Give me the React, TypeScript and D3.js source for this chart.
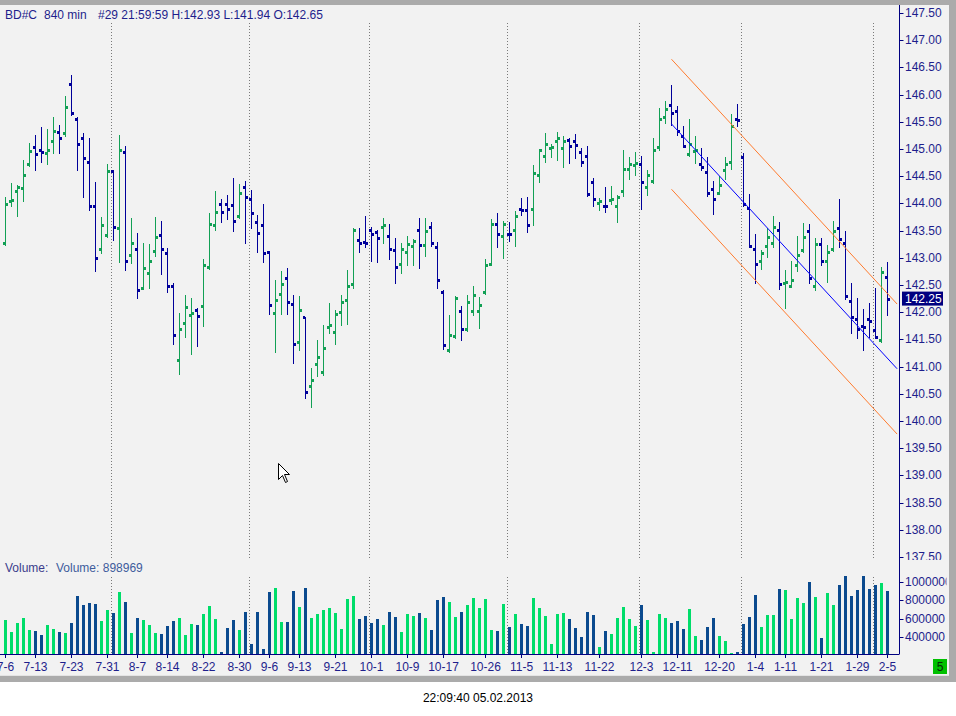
import * as d3 from "d3";

// OHLC bars, 840 min, BD#C
const opens = [
  143.28, 144.04, 144.22, 144.28, 144.72, 145.03, 144.98, 144.92, 145.14, 145.31,
  145.29, 146.19, 145.55, 145.2, 144.76, 143.95, 143.17, 143.41, 144.59, 143.54,
  144.94, 143.05, 143.17, 142.44, 142.72, 143.12, 143.41, 143.08, 142.48, 141.13,
  141.81, 141.94, 142.04, 142.11, 142.83, 143.6, 143.98, 143.98, 143.97, 143.76,
  144.3, 144.09, 143.65, 143.6, 143.1, 141.98, 142.33, 142.62, 142.15, 141.45,
  141.91, 140.64, 141.04, 140.9, 141.72, 141.63, 142.0, 142.22, 142.51, 143.32,
  143.29, 143.51, 143.47, 143.56, 143.4, 143.14, 142.88, 143.1, 143.21, 143.51,
  143.23, 143.56, 143.19, 142.37, 141.3, 141.56, 142.03, 141.69, 142.02, 142.02,
  142.38, 142.88, 143.63, 143.4, 143.44, 143.51, 143.89, 143.87, 143.89, 144.53,
  144.87, 145.01, 145.14, 145.01, 145.16, 145.14, 144.94, 144.88, 144.39, 144.0,
  143.96, 144.06, 143.95, 144.22, 144.63, 144.7, 144.72, 144.3, 144.42, 145.03,
  145.58, 145.8, 145.69, 145.23, 144.9, 144.97, 144.72, 144.57, 144.26, 144.19,
  144.61, 144.77, 145.55, 144.85, 143.91, 143.17, 142.95, 143.21, 143.27, 143.52,
  142.54, 142.48, 142.86, 143.14, 143.5, 142.49, 143.25, 142.95, 143.17, 143.54,
  143.27, 142.2, 141.88, 141.75, 141.88, 141.67, 141.48, 142.65,
];
const highs = [
  144.12, 144.38, 144.34, 144.8, 145.11, 145.26, 145.4, 145.37, 145.59, 145.44,
  145.97, 146.36, 145.58, 145.29, 145.2, 144.39, 143.75, 144.72, 144.61, 145.26,
  145.06, 143.73, 143.46, 143.27, 143.25, 143.75, 143.68, 143.18, 142.54, 141.99,
  142.32, 142.26, 142.07, 142.98, 143.82, 144.23, 144.08, 144.15, 144.47, 144.36,
  144.41, 144.25, 143.79, 143.99, 143.12, 142.59, 142.76, 142.81, 142.32, 142.3,
  141.92, 140.98, 141.49, 141.77, 142.17, 142.04, 142.32, 142.78, 143.54, 143.54,
  143.77, 143.56, 143.51, 143.73, 143.62, 143.36, 143.27, 143.4, 143.35, 143.73,
  143.73, 143.66, 143.29, 142.41, 141.95, 142.29, 142.11, 142.32, 142.48, 142.28,
  142.98, 143.71, 143.82, 143.68, 143.66, 143.86, 144.1, 144.12, 144.71, 145.0,
  145.29, 145.09, 145.31, 145.24, 145.2, 145.28, 145.01, 145.06, 144.47, 144.1,
  144.3, 144.32, 144.15, 144.98, 144.85, 144.94, 144.87, 144.61, 145.2, 145.76,
  145.88, 146.18, 145.79, 145.42, 145.55, 145.24, 145.01, 144.85, 144.41, 144.5,
  144.85, 145.64, 145.83, 144.92, 144.17, 143.44, 143.14, 143.54, 143.77, 143.65,
  142.78, 142.94, 143.4, 143.64, 143.62, 143.36, 143.36, 143.23, 143.67, 144.08,
  143.49, 142.53, 142.27, 142.05, 142.16, 142.45, 142.83, 142.93,
];
const lows = [
  143.24, 143.95, 143.76, 144.05, 144.68, 144.61, 144.76, 144.73, 144.93, 144.93,
  145.23, 145.63, 144.61, 144.12, 143.87, 142.75, 143.09, 143.39, 143.33, 142.93,
  142.78, 142.91, 142.27, 142.42, 142.45, 143.03, 142.7, 142.38, 141.42, 140.87,
  141.55, 141.24, 141.37, 141.74, 142.8, 143.52, 143.65, 143.72, 143.5, 143.73,
  143.28, 143.55, 143.11, 142.93, 141.96, 141.26, 141.96, 141.97, 141.07, 141.31,
  140.42, 140.25, 140.83, 140.85, 141.61, 141.42, 141.77, 141.79, 142.45, 143.11,
  143.19, 142.95, 142.93, 143.28, 142.97, 142.54, 142.72, 142.87, 142.86, 142.82,
  143.04, 143.22, 142.45, 141.32, 141.27, 141.53, 141.49, 141.66, 141.95, 141.71,
  142.34, 142.86, 143.19, 143.0, 143.3, 143.22, 143.78, 143.48, 143.61, 144.4,
  144.77, 144.86, 144.8, 144.66, 144.75, 144.84, 144.69, 144.14, 143.96, 143.87,
  143.85, 143.98, 143.66, 144.14, 144.45, 144.53, 143.9, 144.16, 144.37, 144.99,
  145.47, 145.44, 145.25, 145.03, 144.87, 144.75, 144.62, 144.13, 143.81, 144.17,
  144.45, 144.64, 145.43, 143.95, 143.19, 142.53, 142.79, 143.02, 143.2, 142.42,
  142.07, 142.46, 142.75, 143.11, 142.53, 142.41, 142.86, 142.55, 143.12, 143.19,
  142.25, 141.62, 141.53, 141.3, 141.54, 141.52, 141.46, 141.94,
];
const closes = [
  143.98, 144.06, 144.3, 144.53, 144.96, 144.9, 144.94, 144.98, 145.34, 145.2,
  145.78, 145.66, 145.1, 144.83, 143.96, 142.99, 143.6, 144.59, 143.56, 144.99,
  142.94, 143.28, 142.4, 142.81, 142.94, 143.38, 143.16, 142.49, 141.58, 141.7,
  142.09, 141.98, 141.93, 142.86, 143.62, 143.84, 143.85, 143.89, 143.67, 144.19,
  144.11, 143.82, 143.45, 143.08, 142.13, 142.22, 142.51, 142.18, 141.41, 142.04,
  140.53, 140.75, 141.17, 141.34, 141.76, 141.96, 142.18, 142.49, 143.52, 143.27,
  143.27, 143.43, 143.36, 143.6, 143.17, 142.84, 143.17, 143.25, 143.3, 143.23,
  143.49, 143.27, 142.6, 141.39, 141.59, 142.27, 141.69, 142.18, 142.31, 142.13,
  142.86, 143.62, 143.43, 143.62, 143.43, 143.76, 143.87, 143.6, 144.55, 144.98,
  145.1, 145.03, 145.2, 145.14, 145.05, 145.07, 144.77, 144.17, 144.09, 144.04,
  143.95, 144.08, 144.11, 144.64, 144.72, 144.75, 144.39, 144.52, 144.98, 145.56,
  145.73, 145.66, 145.34, 145.05, 145.09, 144.98, 144.66, 144.19, 144.09, 144.33,
  144.72, 145.42, 145.53, 143.98, 143.21, 142.88, 143.09, 143.39, 143.56, 142.51,
  142.56, 142.59, 143.06, 143.38, 142.62, 143.25, 142.95, 143.1, 143.49, 143.34,
  142.29, 141.92, 141.7, 141.73, 141.83, 141.54, 142.73, 142.25,
];
const volumes = [
  584000, 452000, 551000, 606000, 474000, 463000, 418000, 529000, 485000, 452000,
  440000, 551000, 849000, 750000, 772000, 761000, 573000, 694000, 661000, 893000,
  783000, 440000, 606000, 584000, 529000, 440000, 429000, 518000, 573000, 606000,
  418000, 540000, 529000, 650000, 739000, 595000, 231000, 496000, 584000, 474000,
  672000, 319000, 672000, 264000, 893000, 937000, 562000, 562000, 904000, 728000,
  937000, 606000, 650000, 694000, 717000, 661000, 485000, 816000, 849000, 595000,
  628000, 551000, 595000, 529000, 672000, 617000, 452000, 650000, 628000, 661000,
  606000, 474000, 805000, 838000, 783000, 617000, 672000, 750000, 827000, 713000,
  820000, 474000, 463000, 761000, 507000, 650000, 540000, 518000, 827000, 717000,
  628000, 319000, 650000, 661000, 595000, 496000, 396000, 672000, 639000, 286000,
  463000, 429000, 606000, 728000, 595000, 518000, 750000, 584000, 231000, 650000,
  606000, 551000, 573000, 485000, 706000, 407000, 363000, 507000, 606000, 407000,
  352000, 220000, 231000, 540000, 617000, 860000, 507000, 639000, 639000, 926000,
  915000, 595000, 827000, 772000, 1004000, 838000, 385000, 882000, 750000, 971000,
  1070000, 849000, 915000, 1070000, 926000, 971000, 993000, 898969,
];

const dateLabels = [
  "7-6", "7-13", "7-23", "7-31", "8-7", "8-14", "8-22", "8-30", "9-6", "9-13",
  "9-21", "10-1", "10-9", "10-17", "10-26", "11-5", "11-13", "11-22", "12-3",
  "12-11", "12-20", "1-4", "1-11", "1-21", "1-29", "2-5",
];
const dateLabelBars = [
  0, 5, 11, 17, 22, 27, 33, 39, 44, 49, 55, 61, 67, 73, 80, 86, 92, 99, 106,
  112, 119, 125, 130, 136, 142, 147,
];
// first bar of each new month
const monthStartBars = [18, 41, 61, 84, 106, 123, 145];

const priceTicks = [
  137.5, 138, 138.5, 139, 139.5, 140, 140.5, 141, 141.5, 142, 142.5, 143,
  143.5, 144, 144.5, 145, 145.5, 146, 146.5, 147, 147.5,
];
const volumeTicks = [400000, 600000, 800000, 1000000];

// regression channel: [bar index, price]
const channelMid: [number, number][] = [[111, 145.46], [148.6, 140.96]];
const channelUpper: [number, number][] = [[111, 146.65], [148.6, 142.15]];
const channelLower: [number, number][] = [[111, 144.26], [148.6, 139.76]];

const lastPrice = 142.25;
const volumeValue = "898969";

const FONT = "'Liberation Sans', Arial, sans-serif";
const TEXT = "#1e1e8c";
const AXIS = "#000080";
const UP = "#12a055";
const DOWN = "#00009a";
const VOL_UP = "#00dd6a";
const VOL_DOWN = "#0b4a8e";
const axisX = 899.5;
const volBase = 654;

const x = d3.scaleLinear().domain([0, 147]).range([5.5, 887.5]);
const y = d3.scaleLinear().domain([137.5, 147.5]).range([557, 13]);
const yVol = d3.scaleLinear().domain([209000, 1000000]).range([volBase, 582.3]);

const App = () => {
  const bars = opens.map((o, i) => ({
    i,
    o,
    h: highs[i],
    l: lows[i],
    c: closes[i],
    v: volumes[i],
    up: closes[i] > o,
  }));

  const line = d3
    .line<[number, number]>()
    .x((d) => x(d[0]))
    .y((d) => y(d[1]));

  const sep = (i: number) => Math.floor(x(i) - 2) + 0.5;

  return (
    <svg
      width={956}
      height={716}
      style={{ position: "absolute", left: 0, top: 0, fontFamily: FONT }}
    >
      <defs>
        <clipPath id="plot">
          <rect x={0} y={5} width={axisX} height={555} />
        </clipPath>
        <clipPath id="priceLabels">
          <rect x={axisX} y={5} width={47} height={555} />
        </clipPath>
        <clipPath id="volLabels">
          <rect x={axisX} y={560} width={47} height={100} />
        </clipPath>
      </defs>

      <rect x={0} y={0} width={956} height={716} fill="#ffffff" />
      <rect x={0} y={5} width={949} height={672} fill="#f2f2f2" />
      {/* frame */}
      <rect x={0} y={0} width={956} height={5} fill="#ababab" />
      <rect x={949} y={0} width={7} height={682} fill="#ababab" />
      <rect x={0} y={676} width={956} height={6} fill="#ababab" />
      <line x1={0} x2={949} y1={675.5} y2={675.5} stroke="#e4e4e4" />

      {/* month separators */}
      {monthStartBars.map((b) => (
        <g key={b}>
          <line
            x1={sep(b)}
            x2={sep(b)}
            y1={23}
            y2={560}
            stroke="#7a7a7a"
            strokeDasharray="1,2"
          />
          <line
            x1={sep(b)}
            x2={sep(b)}
            y1={577}
            y2={volBase}
            stroke="#7a7a7a"
            strokeDasharray="1,2"
          />
        </g>
      ))}

      {/* price bars */}
      <g clipPath="url(#plot)" shapeRendering="crispEdges">
        {bars.map((d) => {
          const col = d.up ? UP : DOWN;
          const cx = x(d.i);
          return (
            <g key={d.i}>
              <line
                x1={cx}
                x2={cx}
                y1={Math.round(y(d.h))}
                y2={Math.round(y(d.l)) + 1}
                stroke={col}
                strokeWidth={1}
              />
              <rect
                x={cx - 2.5}
                y={Math.round(y(d.o)) - 1}
                width={2}
                height={3}
                fill={col}
              />
              <rect
                x={cx + 0.5}
                y={Math.round(y(d.c)) - 1}
                width={2}
                height={3}
                fill={col}
              />
            </g>
          );
        })}
      </g>

      {/* channel */}
      <g clipPath="url(#plot)">
        <path d={line(channelMid) ?? ""} stroke="#0000ff" strokeWidth={1} fill="none" />
        <path d={line(channelUpper) ?? ""} stroke="#ff7b2e" strokeWidth={1} fill="none" />
        <path d={line(channelLower) ?? ""} stroke="#ff7b2e" strokeWidth={1} fill="none" />
      </g>

      {/* cursor */}
      <path
        d="M278.5,463.5 L278.5,479.5 L282.5,475.5 L285.5,482.5 L287.5,481.5 L284.5,474.5 L289.5,474.5 Z"
        fill="#ffffff"
        stroke="#000000"
        strokeWidth={1}
      />

      {/* header */}
      <g fontSize={12} fill={TEXT} dominantBaseline="central">
        <text x={5} y={15}>BD#C</text>
        <text x={44} y={15}>840 min</text>
        <text x={98} y={15}>#29 21:59:59 H:142.93 L:141.94 O:142.65</text>
      </g>

      {/* price axis */}
      <line x1={axisX} x2={axisX} y1={5} y2={volBase} stroke={AXIS} />
      <g clipPath="url(#priceLabels)">
        {priceTicks.map((p) => (
          <g key={p}>
            <line
              x1={axisX}
              x2={axisX + 4}
              y1={Math.round(y(p)) + 0.5}
              y2={Math.round(y(p)) + 0.5}
              stroke={AXIS}
            />
            <text
              x={905}
              y={y(p)}
              fontSize={12}
              fill={TEXT}
              dominantBaseline="central"
            >
              {p.toFixed(2)}
            </text>
          </g>
        ))}
      </g>
      <rect x={902} y={y(lastPrice) - 7} width={41} height={14} fill="#000080" />
      <text
        x={905}
        y={y(lastPrice)}
        fontSize={12}
        fill="#ffffff"
        dominantBaseline="central"
      >
        {lastPrice.toFixed(2)}
      </text>

      {/* volume */}
      <g fontSize={12} dominantBaseline="central">
        <text x={5} y={568} fill="#3c3c8c">Volume:</text>
        <text x={56} y={568} fill="#3e5c9c">Volume: {volumeValue}</text>
      </g>
      <g shapeRendering="crispEdges">
        {bars.map((d) => {
          const top = Math.round(yVol(d.v));
          return (
            <rect
              key={d.i}
              x={x(d.i) - 1.5}
              y={top}
              width={3}
              height={volBase - top}
              fill={d.up ? VOL_UP : VOL_DOWN}
            />
          );
        })}
      </g>
      <g clipPath="url(#volLabels)">
        {volumeTicks.map((v) => (
          <g key={v}>
            <line
              x1={axisX}
              x2={axisX + 4}
              y1={Math.round(yVol(v)) + 0.5}
              y2={Math.round(yVol(v)) + 0.5}
              stroke={AXIS}
            />
            <text
              x={905}
              y={yVol(v)}
              fontSize={12}
              fill={TEXT}
              dominantBaseline="central"
            >
              {v}
            </text>
          </g>
        ))}
      </g>

      {/* date axis */}
      <line x1={0} x2={axisX} y1={volBase + 0.5} y2={volBase + 0.5} stroke={AXIS} />
      {dateLabelBars.map((b, k) => (
        <g key={b}>
          <line
            x1={x(b)}
            x2={x(b)}
            y1={volBase}
            y2={volBase + 4}
            stroke={AXIS}
          />
          <text
            x={x(b)}
            y={667}
            fontSize={12}
            fill={TEXT}
            textAnchor="middle"
            dominantBaseline="central"
          >
            {dateLabels[k]}
          </text>
        </g>
      ))}

      {/* status box */}
      <rect x={933} y={659} width={14} height={15} fill="#00c000" />
      <text
        x={940}
        y={666.5}
        fontSize={12}
        fill="#0a2a0a"
        textAnchor="middle"
        dominantBaseline="central"
      >
        5
      </text>

      <text
        x={478}
        y={698}
        fontSize={12}
        fill="#000000"
        textAnchor="middle"
        dominantBaseline="central"
      >
        22:09:40 05.02.2013
      </text>
    </svg>
  );
};

export default App;
